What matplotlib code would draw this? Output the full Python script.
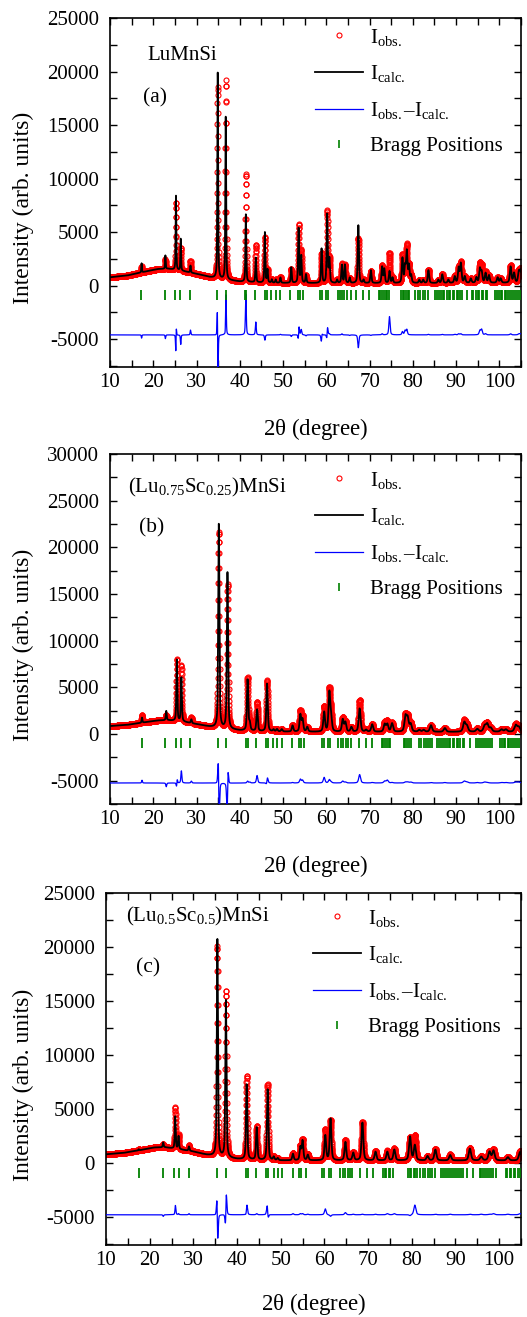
import numpy as np
import matplotlib
matplotlib.use('Agg')
import matplotlib.pyplot as plt
from matplotlib.lines import Line2D
from matplotlib.ticker import MultipleLocator

plt.rcParams['font.family'] = ['Liberation Serif', 'DejaVu Serif']
plt.rcParams['mathtext.fontset'] = 'custom'
plt.rcParams['mathtext.rm'] = 'Liberation Serif'
plt.rcParams['mathtext.it'] = 'Liberation Serif:italic'
plt.rcParams['axes.unicode_minus'] = False

# ---- panel (a) LuMnSi : peak table (net height above background)
a_pos = [17.3, 22.8, 25.25, 26.35, 28.6, 34.9, 36.75, 41.4, 43.7, 45.8, 46.4, 47.4, 48.3,
         49.4, 51.9, 53.6, 54.2, 55.3, 58.9, 60.2, 60.7, 62.5, 63.6, 64.3, 65.4, 67.4,
         68.6, 70.3, 72.9, 73.4, 74.6, 75.3, 77.6, 78.2, 78.6, 79.1, 79.6, 81.5, 82.4,
         83.6, 85.9, 86.8, 88.2, 89.7, 90.6, 91.1, 92.0, 93.4, 94.7, 95.5, 95.9, 96.8,
         97.6, 99.6, 100.3, 102.6, 103.4, 104.5, 104.9]
a_calc = [850, 1250, 7000, 3000, 650, 19200, 15300, 6300, 2300, 4700, 1200, 300, 300,
          500, 1450, 5100, 2500, 800, 3200, 6400, 2200, 300, 1700, 1700, 500, 5400,
          300, 1200, 1500, 1300, 1100, 500, 2300, 1500, 2900, 1600, 700, 300, 300,
          1200, 300, 800, 300, 600, 1400, 1800, 600, 400, 500, 1300, 1000, 900,
          700, 500, 400, 1500, 900, 1000, 1100]
a_obs = [550, 900, 6300, 2100, 1100, 17900, 18600, 10100, 3500, 4200, 1200, 300, 300,
         550, 1300, 5400, 3000, 700, 2800, 6700, 2300, 300, 1800, 1700, 450, 4200,
         300, 1150, 1600, 1300, 2800, 500, 2600, 1900, 3400, 1600, 700, 300, 300,
         1250, 300, 850, 300, 650, 1500, 1900, 600, 400, 500, 1700, 1500, 1000,
         700, 500, 400, 1600, 900, 1100, 1200]
a_shift = {2: 0.02, 5: -0.025, 6: 0.01, 15: 0.02, 18: 0.02, 19: 0.015}
a_bg_x = [10, 14, 18, 21, 23.5, 27, 30, 33, 36, 40, 45, 50, 60, 80, 105]
a_bg_y = [780, 950, 1300, 1550, 1580, 1350, 1100, 800, 600, 380, 280, 250, 230, 230, 260]

# ---- panel (b) (Lu0.75Sc0.25)MnSi
b_pos = [17.4, 23.0, 25.45, 26.5, 28.8, 35.15, 37.15, 41.8, 42.3, 44.0, 46.3, 47.8, 48.6,
         49.7, 52.2, 54.0, 54.5, 55.6, 59.5, 60.7, 61.1, 63.8, 64.4, 65.8, 67.7, 69.2,
         70.6, 73.5, 74.1, 75.2, 78.3, 78.8, 79.5, 81.5, 82.5, 84.2, 87.4, 91.9, 92.5,
         94.9, 96.6, 97.2, 98.0, 100.5, 101.5, 103.8, 104.5]
b_calc = [550, 1000, 6600, 4700, 400, 21900, 16800, 5450, 800, 2300, 5100, 200, 250,
          250, 650, 1800, 1300, 500, 2100, 4100, 1500, 1300, 1000, 500, 2500, 200,
          800, 800, 800, 900, 1600, 1400, 800, 200, 200, 700, 400, 1000, 600,
          300, 600, 800, 400, 250, 250, 700, 500]
b_obs = [850, 600, 6600, 6000, 600, 21000, 15500, 5650, 900, 3100, 5450, 200, 250,
         250, 700, 2200, 1600, 500, 2700, 4450, 1600, 1500, 1100, 500, 3400, 200,
         850, 1000, 1100, 950, 1700, 1500, 900, 200, 200, 750, 450, 1200, 700,
         350, 700, 850, 400, 300, 300, 800, 600]
b_shift = {2: 0.01, 5: -0.03, 6: 0.03, 10: 0.015}
b_bg_x = [10, 14, 18, 21, 23.5, 27, 30, 33, 36, 40, 45, 50, 60, 105]
b_bg_y = [850, 980, 1250, 1450, 1470, 1300, 1050, 780, 580, 380, 280, 250, 220, 230]

# ---- panel (c) (Lu0.5Sc0.5)MnSi
c_pos = [17.5, 23.1, 25.85, 26.6, 29.0, 35.5, 37.45, 42.2, 44.5, 47.0, 48.4, 49.3, 52.8,
         54.5, 55.0, 56.2, 60.2, 61.4, 64.8, 66.6, 68.7, 71.7, 74.4, 76.0, 79.6, 80.7,
         83.6, 85.4, 88.8, 93.3, 95.9, 97.8, 98.7, 102.0, 104.8]
c_calc = [100, 450, 3000, 1200, 400, 20100, 14600, 6950, 3000, 6550, 300, 200, 600,
          1200, 1800, 500, 2300, 3850, 1700, 700, 3500, 800, 800, 1000, 2200, 1400,
          400, 1000, 500, 1100, 350, 800, 900, 300, 800]
c_obs = [100, 300, 3800, 1300, 500, 19450, 15400, 7700, 3100, 7000, 300, 200, 700,
         1300, 1900, 550, 2850, 3700, 1900, 750, 3550, 850, 900, 1100, 2100, 2300,
         400, 1050, 550, 1150, 400, 850, 1000, 350, 900]
c_shift = {2: 0.01, 5: -0.02, 6: 0.02, 7: 0.01, 9: -0.02}
c_bg_x = [10, 14, 18, 21, 23.5, 27, 30, 33, 36, 40, 45, 50, 105]
c_bg_y = [800, 930, 1200, 1430, 1450, 1250, 1050, 750, 560, 360, 270, 230, 220]

# ---- Bragg reflection positions (green ticks)
a_bragg = [17.1, 22.6, 25.1, 26.2, 28.4, 34.8, 36.7, 41.2, 41.5, 43.6, 45.8, 46.2, 47.3, 48.3,
           49.3, 51.6, 53.4, 53.9, 54.6, 58.6, 59.0, 59.9, 60.3, 62.6, 63.2, 63.6, 64.1, 64.8,
           65.7, 66.9, 68.4, 69.8, 72.2, 72.5, 72.9, 73.3, 73.7, 74.0, 74.4, 77.3, 77.7, 78.0,
           78.4, 78.8, 79.2, 80.6, 81.1, 81.6, 82.3, 82.8, 83.5, 85.2, 85.6, 86.0, 86.5, 86.9,
           87.3, 87.8, 88.3, 88.7, 89.2, 89.6, 90.1, 90.5, 91.0, 91.4, 92.6, 93.6, 94.0, 94.5,
           95.0, 95.4, 95.9, 96.3, 96.8, 97.2, 99.0, 99.4, 99.8, 100.3, 100.7, 101.2, 101.6,
           102.1, 102.5, 103.0, 103.4, 103.9, 104.3, 104.8]
b_bragg = [17.3, 22.8, 25.3, 26.3, 28.6, 34.9, 36.9, 41.5, 41.9, 43.8, 46.0, 46.5, 47.7, 48.7,
           49.8, 52.0, 53.6, 54.1, 54.9, 58.9, 59.4, 60.3, 60.8, 62.8, 63.4, 63.9, 64.5, 65.0,
           65.8, 67.5, 69.1, 70.5, 72.8, 73.2, 73.6, 74.0, 74.4, 74.8, 77.9, 78.3, 78.7, 79.1,
           79.5, 81.5, 82.0, 82.5, 83.0, 83.5, 84.0, 84.4, 85.6, 86.0, 86.5, 86.9, 87.4, 87.8,
           88.3, 88.7, 89.2, 89.6, 90.1, 90.5, 91.0, 91.5, 91.9, 93.2, 94.6, 95.0, 95.5, 95.9,
           96.4, 96.8, 97.3, 97.8, 98.2, 100.1, 100.5, 101.0, 101.4, 101.9, 102.3, 102.8,
           103.2, 103.7, 104.1, 104.6]
c_bragg = [17.5, 23.0, 25.6, 26.8, 29.1, 35.4, 37.4, 42.0, 42.4, 44.3, 46.6, 47.1, 48.4, 49.3,
           50.4, 52.7, 54.1, 54.7, 55.7, 59.5, 59.9, 61.0, 61.5, 63.6, 64.2, 64.7, 65.3, 65.9,
           66.3, 68.2, 69.7, 71.1, 73.4, 73.8, 74.2, 74.7, 75.1, 75.6, 79.1, 79.5, 79.9, 80.4,
           80.8, 81.3, 81.9, 82.6, 83.1, 83.6, 84.1, 84.6, 85.2, 86.8, 87.2, 87.7, 88.1, 88.6,
           89.0, 89.5, 89.9, 90.4, 90.8, 91.3, 91.8, 92.6, 94.1, 95.5, 95.9, 96.4, 96.8, 97.3,
           97.7, 98.2, 98.7, 99.2, 101.5, 101.9, 102.4, 102.8, 103.3, 103.7, 104.2, 104.7]

tth = np.arange(10.0, 105.0 + 1e-9, 0.02)


def pattern(pos, heights, shift, w0, w1):
    """pseudo-Voigt sum of the tabulated peaks"""
    y = np.zeros_like(tth)
    for i, (p, h) in enumerate(zip(pos, heights)):
        c = p + shift.get(i, 0.0)
        w = w0 + w1 * (p - 10) / 95.0
        u = 2 * (tth - c) / w
        y += h * (0.5 / (1 + u ** 2) + 0.5 * np.exp(-np.log(2) * u ** 2))
    return y


panels = [
    dict(pos=a_pos, calc=a_calc, obs=a_obs, shift=a_shift, bgx=a_bg_x, bgy=a_bg_y,
         bragg=a_bragg, bragg_y=-875, diff_off=-4600, w=(0.13, 0.30), ylim=(-7600, 25000),
         rect=[110/527, 1-367/1317, 411/527, 349/1317], name='LuMnSi', tag='(a)',
         name_xy=(0.092, 0.893), tag_xy=(0.080, 0.770), leg_y=0.975, xlab_y=-0.14),
    dict(pos=b_pos, calc=b_calc, obs=b_obs, shift=b_shift, bgx=b_bg_x, bgy=b_bg_y,
         bragg=b_bragg, bragg_y=-1000, diff_off=-5250, w=(0.17, 0.55), ylim=(-7500, 30000),
         rect=[110/527, 1-804/1317, 411/527, 350/1317],
         name=r'(Lu$_{\mathrm{0.75}}$Sc$_{\mathrm{0.25}}$)MnSi', tag='(b)',
         name_xy=(0.044, 0.903), tag_xy=(0.071, 0.789), leg_y=0.955, xlab_y=-0.14),
    dict(pos=c_pos, calc=c_calc, obs=c_obs, shift=c_shift, bgx=c_bg_x, bgy=c_bg_y,
         bragg=c_bragg, bragg_y=-900, diff_off=-4800, w=(0.17, 0.50), ylim=(-7600, 25000),
         rect=[106/527, 1-1245/1317, 415/527, 352/1317],
         name=r'(Lu$_{\mathrm{0.5}}$Sc$_{\mathrm{0.5}}$)MnSi', tag='(c)',
         name_xy=(0.048, 0.932), tag_xy=(0.072, 0.787), leg_y=0.958, xlab_y=-0.13),
]

fig = plt.figure(figsize=(5.27, 13.17), dpi=100)

for pan in panels:
    ax = fig.add_axes(pan['rect'])
    bg = np.interp(tth, pan['bgx'], pan['bgy'])
    y_calc = bg + pattern(pan['pos'], pan['calc'], {}, *pan['w'])
    y_obs = bg + pattern(pan['pos'], pan['obs'], pan['shift'], *pan['w'])

    ax.plot(tth, y_obs, 'o', ms=3.6, mfc='none', mec='red', mew=0.8, zorder=2)
    ax.plot(tth, y_calc, '-', color='black', lw=1.3, zorder=3)
    ax.plot(tth, y_obs - y_calc + pan['diff_off'], '-', color='blue', lw=0.9, zorder=3)
    ax.plot(pan['bragg'], np.full(len(pan['bragg']), pan['bragg_y']), '|',
            color='green', ms=7, mew=1.3, zorder=3)

    ax.set_xlim(10, 105)
    ax.set_ylim(*pan['ylim'])
    ax.xaxis.set_major_locator(MultipleLocator(10))
    ax.xaxis.set_minor_locator(MultipleLocator(5))
    ax.yaxis.set_major_locator(MultipleLocator(5000))
    ax.yaxis.set_minor_locator(MultipleLocator(2500))
    ax.tick_params(which='both', direction='in', top=True, right=True,
                   length=5, width=1.0, labelsize=15)
    ax.tick_params(axis='y', pad=8)
    ax.tick_params(axis='x', pad=4)
    for sp in ax.spines.values():
        sp.set_linewidth(1.2)

    ax.set_xlabel(r'2$\mathrm{\theta}$ (degree)', fontsize=16.5)
    ax.set_ylabel('Intensity (arb. units)', fontsize=17)
    ax.xaxis.set_label_coords(0.5, pan['xlab_y'])
    w_ax = pan['rect'][2] * 527
    ax.yaxis.set_label_coords(-(pan['rect'][0] * 527 - 34) / w_ax, 0.455)

    ax.text(pan['name_xy'][0], pan['name_xy'][1], pan['name'], transform=ax.transAxes,
            fontsize=15, va='center', ha='left')
    ax.text(pan['tag_xy'][0], pan['tag_xy'][1], pan['tag'], transform=ax.transAxes,
            fontsize=15.5, va='center', ha='left')

    handles = [
        Line2D([], [], ls='none', marker='o', ms=3.6, mfc='none', mec='red', mew=0.8),
        Line2D([], [], color='black', lw=1.3),
        Line2D([], [], color='blue', lw=0.9),
        Line2D([], [], ls='none', marker='|', ms=6, mew=1.2, color='green'),
    ]
    labels = [r'I$_{\mathrm{obs.}}$', r'I$_{\mathrm{calc.}}$',
              r'I$_{\mathrm{obs.}}$–I$_{\mathrm{calc.}}$', 'Bragg Positions']
    ax.legend(handles, labels, loc='upper left', bbox_to_anchor=(0.499, pan['leg_y']),
              frameon=False, fontsize=15, borderpad=0, borderaxespad=0,
              handlelength=2.3, handletextpad=0.35, labelspacing=0.75)

fig.savefig('out.png', dpi=100)
